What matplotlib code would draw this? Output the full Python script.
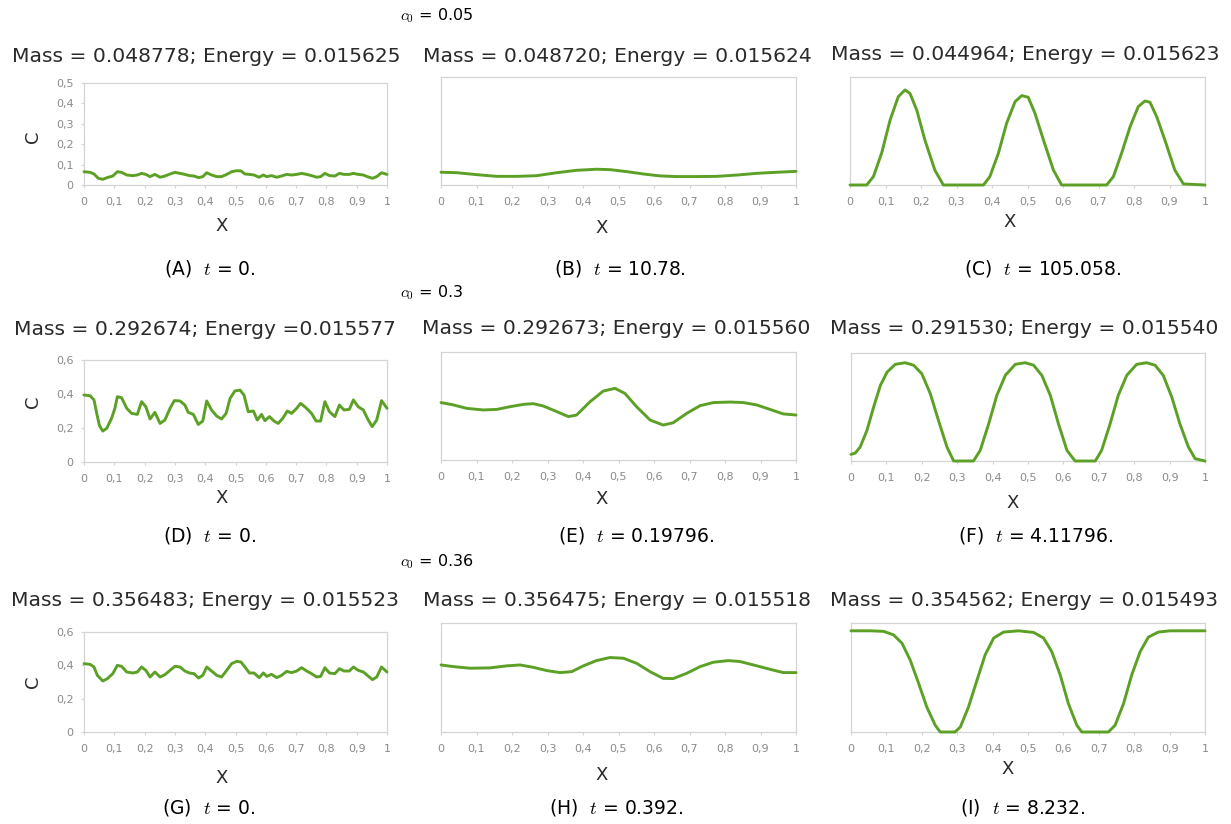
import matplotlib
matplotlib.use("Agg")
import matplotlib.pyplot as plt

W, H = 1231, 824
plt.rcParams['mathtext.fontset'] = 'cm'
plt.rcParams['font.family'] = ['DejaVu Sans']

# ---------------- data ----------------
x_ticks = [0, 0.1, 0.2, 0.3, 0.4, 0.5, 0.6, 0.7, 0.8, 0.9, 1.0]
x_tick_labels = ['0', '0,1', '0,2', '0,3', '0,4', '0,5', '0,6', '0,7', '0,8', '0,9', '1']
y_ticks_05 = [0, 0.1, 0.2, 0.3, 0.4, 0.5]
y_tick_labels_05 = ['0', '0,1', '0,2', '0,3', '0,4', '0,5']
y_ticks_06 = [0, 0.2, 0.4, 0.6]
y_tick_labels_06 = ['0', '0,2', '0,4', '0,6']

row_labels = ['$c_0$ = 0.05', '$c_0$ = 0.3', '$c_0$ = 0.36']

titles = [
    'Mass = 0.048778; Energy = 0.015625', 'Mass = 0.048720; Energy = 0.015624', 'Mass = 0.044964; Energy = 0.015623',
    'Mass = 0.292674; Energy =0.015577', 'Mass = 0.292673; Energy = 0.015560', 'Mass = 0.291530; Energy = 0.015540',
    'Mass = 0.356483; Energy = 0.015523', 'Mass = 0.356475; Energy = 0.015518', 'Mass = 0.354562; Energy = 0.015493',
]
captions = [
    '(A)  $t$ = 0.', '(B)  $t$ = 10.78.', '(C)  $t$ = 105.058.',
    '(D)  $t$ = 0.', '(E)  $t$ = 0.19796.', '(F)  $t$ = 4.11796.',
    '(G)  $t$ = 0.', '(H)  $t$ = 0.392.', '(I)  $t$ = 8.232.',
]

# (A) c0 = 0.05, t = 0
x_a = [0.000, 0.020, 0.033, 0.047, 0.062, 0.080, 0.095, 0.110, 0.124, 0.141, 0.161, 0.176, 0.190,
       0.204, 0.218, 0.234, 0.251, 0.267, 0.284, 0.300, 0.317, 0.333, 0.348, 0.363, 0.378, 0.392,
       0.405, 0.421, 0.438, 0.454, 0.471, 0.487, 0.504, 0.518, 0.531, 0.546, 0.561, 0.578, 0.592,
       0.603, 0.619, 0.636, 0.652, 0.669, 0.685, 0.702, 0.718, 0.735, 0.751, 0.768, 0.781, 0.795,
       0.810, 0.828, 0.843, 0.858, 0.876, 0.889, 0.905, 0.922, 0.935, 0.952, 0.966, 0.982, 1.000]
c_a = [0.065, 0.062, 0.054, 0.033, 0.028, 0.038, 0.044, 0.065, 0.062, 0.049, 0.046, 0.049, 0.057,
       0.052, 0.041, 0.052, 0.038, 0.044, 0.054, 0.062, 0.057, 0.052, 0.046, 0.044, 0.036, 0.041,
       0.060, 0.049, 0.041, 0.041, 0.052, 0.065, 0.070, 0.069, 0.054, 0.052, 0.049, 0.038, 0.049,
       0.041, 0.046, 0.038, 0.044, 0.052, 0.049, 0.052, 0.057, 0.052, 0.046, 0.038, 0.041, 0.057,
       0.046, 0.044, 0.057, 0.052, 0.052, 0.057, 0.052, 0.049, 0.041, 0.033, 0.041, 0.060, 0.052]

# (B) c0 = 0.05, t = 10.78
x_b = [0.000, 0.044, 0.100, 0.157, 0.213, 0.269, 0.326, 0.382, 0.438, 0.476, 0.523, 0.570, 0.617,
       0.664, 0.720, 0.777, 0.833, 0.889, 0.946, 1.000]
c_b = [0.059, 0.057, 0.048, 0.040, 0.040, 0.043, 0.057, 0.068, 0.073, 0.071, 0.062, 0.051, 0.042,
       0.039, 0.039, 0.040, 0.046, 0.054, 0.059, 0.063]

# (C) c0 = 0.05, t = 105.058
x_c = [0.000, 0.047, 0.066, 0.089, 0.113, 0.136, 0.155, 0.169, 0.188, 0.211, 0.239, 0.263, 0.376,
       0.394, 0.418, 0.441, 0.465, 0.484, 0.502, 0.521, 0.545, 0.573, 0.596, 0.723, 0.742, 0.765,
       0.789, 0.812, 0.831, 0.845, 0.864, 0.887, 0.915, 0.939, 1.000]
c_c = [0.000, 0.000, 0.039, 0.147, 0.301, 0.409, 0.440, 0.424, 0.347, 0.208, 0.069, 0.000, 0.000,
       0.039, 0.147, 0.285, 0.386, 0.414, 0.406, 0.332, 0.208, 0.069, 0.000, 0.000, 0.039, 0.147,
       0.270, 0.363, 0.389, 0.383, 0.316, 0.208, 0.069, 0.005, 0.000]

# (D) c0 = 0.3, t = 0
x_d = [0.000, 0.020, 0.033, 0.042, 0.051, 0.062, 0.075, 0.091, 0.102, 0.110, 0.124, 0.141, 0.157,
       0.176, 0.190, 0.204, 0.218, 0.234, 0.251, 0.267, 0.284, 0.298, 0.317, 0.333, 0.344, 0.361,
       0.377, 0.392, 0.405, 0.421, 0.438, 0.454, 0.469, 0.482, 0.498, 0.515, 0.528, 0.542, 0.559,
       0.572, 0.586, 0.597, 0.612, 0.627, 0.641, 0.656, 0.671, 0.685, 0.702, 0.715, 0.732, 0.751,
       0.766, 0.781, 0.795, 0.810, 0.828, 0.843, 0.858, 0.876, 0.889, 0.905, 0.922, 0.935, 0.951,
       0.966, 0.982, 1.000]
c_d = [0.394, 0.390, 0.365, 0.286, 0.214, 0.182, 0.198, 0.257, 0.316, 0.384, 0.378, 0.316, 0.286,
       0.280, 0.355, 0.325, 0.253, 0.292, 0.227, 0.247, 0.316, 0.361, 0.359, 0.335, 0.292, 0.280,
       0.221, 0.241, 0.359, 0.306, 0.270, 0.253, 0.286, 0.374, 0.418, 0.423, 0.394, 0.296, 0.300,
       0.247, 0.280, 0.243, 0.267, 0.241, 0.227, 0.257, 0.300, 0.286, 0.316, 0.345, 0.320, 0.286,
       0.241, 0.241, 0.355, 0.296, 0.267, 0.335, 0.306, 0.310, 0.365, 0.325, 0.306, 0.257, 0.208,
       0.247, 0.361, 0.316]

# (E) c0 = 0.3, t = 0.19796
x_e = [0.000, 0.035, 0.072, 0.119, 0.157, 0.194, 0.232, 0.260, 0.288, 0.326, 0.359, 0.382, 0.420,
       0.457, 0.490, 0.518, 0.551, 0.589, 0.626, 0.654, 0.692, 0.730, 0.767, 0.814, 0.852, 0.889,
       0.927, 0.964, 1.000]
c_e = [0.319, 0.306, 0.287, 0.278, 0.281, 0.296, 0.309, 0.313, 0.300, 0.269, 0.241, 0.250, 0.324,
       0.383, 0.398, 0.370, 0.296, 0.222, 0.194, 0.207, 0.259, 0.302, 0.319, 0.322, 0.319, 0.306,
       0.281, 0.256, 0.250]

# (F) c0 = 0.3, t = 4.11796
x_f = [0.000, 0.012, 0.026, 0.045, 0.064, 0.083, 0.102, 0.125, 0.153, 0.177, 0.200, 0.224, 0.247,
       0.271, 0.290, 0.346, 0.365, 0.389, 0.412, 0.436, 0.464, 0.492, 0.516, 0.539, 0.563, 0.586,
       0.610, 0.633, 0.690, 0.708, 0.732, 0.755, 0.779, 0.807, 0.835, 0.859, 0.882, 0.906, 0.929,
       0.953, 0.972, 1.000]
c_f = [0.037, 0.044, 0.078, 0.170, 0.300, 0.420, 0.494, 0.537, 0.546, 0.532, 0.485, 0.374, 0.226,
       0.078, 0.000, 0.000, 0.059, 0.207, 0.365, 0.476, 0.537, 0.546, 0.532, 0.476, 0.365, 0.207,
       0.059, 0.000, 0.000, 0.059, 0.207, 0.365, 0.476, 0.537, 0.546, 0.532, 0.476, 0.356, 0.207,
       0.078, 0.013, 0.000]

# (G) c0 = 0.36, t = 0
x_g = [0.000, 0.020, 0.033, 0.044, 0.062, 0.077, 0.095, 0.110, 0.124, 0.141, 0.161, 0.176, 0.190,
       0.204, 0.218, 0.234, 0.251, 0.267, 0.284, 0.300, 0.317, 0.333, 0.348, 0.363, 0.378, 0.392,
       0.405, 0.421, 0.438, 0.454, 0.471, 0.487, 0.504, 0.518, 0.531, 0.546, 0.561, 0.578, 0.592,
       0.603, 0.619, 0.636, 0.652, 0.669, 0.685, 0.702, 0.718, 0.735, 0.751, 0.768, 0.781, 0.795,
       0.810, 0.828, 0.843, 0.858, 0.876, 0.889, 0.905, 0.922, 0.935, 0.952, 0.966, 0.982, 1.000]
c_g = [0.410, 0.406, 0.390, 0.340, 0.306, 0.320, 0.350, 0.400, 0.394, 0.360, 0.354, 0.360, 0.390,
       0.370, 0.330, 0.360, 0.330, 0.344, 0.370, 0.394, 0.390, 0.366, 0.354, 0.350, 0.324, 0.340,
       0.390, 0.366, 0.340, 0.330, 0.370, 0.410, 0.424, 0.420, 0.390, 0.354, 0.354, 0.326, 0.354,
       0.334, 0.346, 0.326, 0.340, 0.364, 0.356, 0.366, 0.386, 0.366, 0.350, 0.330, 0.334, 0.386,
       0.354, 0.350, 0.380, 0.366, 0.366, 0.390, 0.370, 0.360, 0.340, 0.314, 0.330, 0.390, 0.360]

# (H) c0 = 0.36, t = 0.392
x_h = [0.000, 0.035, 0.082, 0.138, 0.185, 0.223, 0.260, 0.298, 0.335, 0.368, 0.401, 0.438, 0.476,
       0.514, 0.551, 0.589, 0.626, 0.654, 0.692, 0.730, 0.767, 0.809, 0.842, 0.880, 0.927, 0.964,
       1.000]
c_h = [0.369, 0.360, 0.351, 0.353, 0.364, 0.369, 0.356, 0.338, 0.327, 0.332, 0.364, 0.393, 0.410,
       0.406, 0.378, 0.332, 0.295, 0.294, 0.323, 0.360, 0.384, 0.393, 0.388, 0.369, 0.345, 0.327,
       0.327]

# (I) c0 = 0.36, t = 8.232
x_i = [0.000, 0.055, 0.092, 0.120, 0.144, 0.167, 0.191, 0.214, 0.238, 0.252, 0.294, 0.309, 0.332,
       0.356, 0.379, 0.403, 0.431, 0.473, 0.516, 0.544, 0.567, 0.591, 0.614, 0.638, 0.652, 0.727,
       0.746, 0.770, 0.793, 0.817, 0.840, 0.868, 0.901, 1.000]
c_i = [0.557, 0.557, 0.554, 0.535, 0.489, 0.397, 0.268, 0.138, 0.037, 0.000, 0.000, 0.028, 0.138,
       0.286, 0.425, 0.517, 0.550, 0.557, 0.548, 0.517, 0.443, 0.314, 0.157, 0.037, 0.000, 0.000,
       0.037, 0.157, 0.314, 0.443, 0.522, 0.550, 0.557, 0.557]

series = [(x_a, c_a), (x_b, c_b), (x_c, c_c),
          (x_d, c_d), (x_e, c_e), (x_f, c_f),
          (x_g, c_g), (x_h, c_h), (x_i, c_i)]

# ---------------- layout (pixels) ----------------
boxes = [(84, 387, 83, 185), (441, 796, 77, 185), (850, 1205, 77, 185),
         (84, 387, 360, 462), (441, 796, 352, 460), (851, 1205, 353, 461),
         (84, 387, 632, 732), (441, 796, 623, 732), (851, 1205, 623, 732)]
ylims = [0.5, 0.5, 0.5, 0.6, 0.6, 0.6, 0.6, 0.6, 0.6]
title_pos = [(206, 57), (617, 56), (1025, 55),
             (205, 330), (616, 329), (1024, 328),
             (205, 601), (617, 601), (1024, 600)]
xlabel_pos = [(222, 226), (602, 228), (1010, 222),
              (222, 498), (602, 499), (1013, 503),
              (222, 778), (602, 775), (1008, 769)]
ylabel_pos = {0: (33, 137), 3: (33, 402), 6: (33, 682)}
caption_pos = [(210, 268), (620, 268), (1043, 268),
               (210, 536), (636, 536), (1036, 536),
               (209, 808), (616, 808), (1023, 808)]
row_label_pos = [(400, 16), (400, 293), (400, 562)]

GREEN = '#5ca126'
GRID_GRAY = '#d4d4d4'
TICK_GRAY = '#8a8a8a'
TEXT_DARK = '#2a2a2a'

fig = plt.figure(figsize=(W / 100, H / 100), dpi=100)
fig.patch.set_facecolor('white')


def fx(px):
    return px / W


def fy(py):
    return 1 - py / H


for k in range(9):
    l, r, t, b = boxes[k]
    ax = fig.add_axes([fx(l), fy(b), (r - l) / W, (b - t) / H])
    xs, cs = series[k]
    ax.plot(xs, cs, color=GREEN, lw=2.1, clip_on=False, solid_joinstyle='round',
            solid_capstyle='round', zorder=3)
    ax.set_xlim(0, 1)
    ax.set_ylim(0, ylims[k])
    for sp in ax.spines.values():
        sp.set_color(GRID_GRAY)
        sp.set_linewidth(0.9)
    ax.set_xticks(x_ticks)
    ax.set_xticklabels(x_tick_labels)
    ax.tick_params(axis='x', length=2.5, width=0.8, color=GRID_GRAY, pad=6,
                   labelsize=8, labelcolor=TICK_GRAY)
    if k in (0, 3, 6):
        if k == 0:
            ax.set_yticks(y_ticks_05)
            ax.set_yticklabels(y_tick_labels_05)
        else:
            ax.set_yticks(y_ticks_06)
            ax.set_yticklabels(y_tick_labels_06)
        ax.tick_params(axis='y', length=2.5, width=0.8, color=GRID_GRAY, pad=5,
                       labelsize=8, labelcolor=TICK_GRAY)
    else:
        ax.set_yticks([])

    tx, ty = title_pos[k]
    fig.text(fx(tx), fy(ty), titles[k], ha='center', va='center', fontsize=14.6,
             color=TEXT_DARK)
    lx, ly = xlabel_pos[k]
    fig.text(fx(lx), fy(ly), 'X', ha='center', va='center', fontsize=13,
             color=TEXT_DARK)
    if k in ylabel_pos:
        yx, yy = ylabel_pos[k]
        fig.text(fx(yx), fy(yy), 'C', ha='center', va='center', fontsize=13,
                 rotation=90, color=TEXT_DARK)
    cx, cy = caption_pos[k]
    fig.text(fx(cx), fy(cy), captions[k], ha='center', va='center', fontsize=13.5,
             color='black')

for (rx, ry), lab in zip(row_label_pos, row_labels):
    fig.text(fx(rx), fy(ry), lab, ha='left', va='center', fontsize=11.5, color='black')

fig.savefig('out.png', dpi=100, facecolor='white')
